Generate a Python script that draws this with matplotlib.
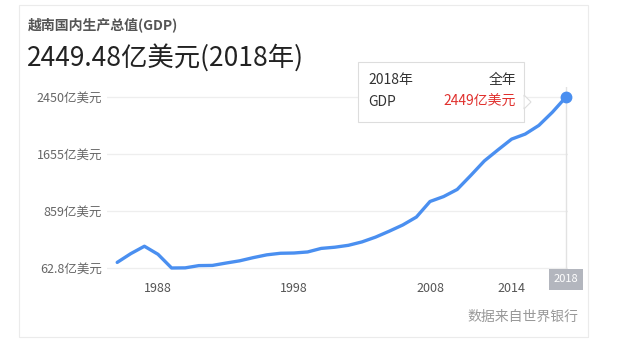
import matplotlib
matplotlib.use('Agg')
import matplotlib.pyplot as plt
from matplotlib.patches import Rectangle, Polygon

plt.rcParams['font.family'] = ['Noto Sans CJK SC', 'DejaVu Sans']

# Vietnam GDP, 亿美元 (World Bank)
years = list(range(1985, 2019))
gdp = [140.9, 263.4, 366.6, 254.2, 62.9, 64.7, 96.1, 98.7, 131.8, 162.9,
       207.4, 246.6, 268.4, 272.1, 286.8, 336.4, 352.9, 379.5, 427.2, 494.2,
       576.3, 663.7, 774.1, 991.3, 1060.1, 1159.3, 1355.4, 1558.2, 1712.2, 1862.0,
       1932.4, 2052.8, 2237.8, 2449.5]

y_ticks = [62.8, 859, 1655, 2450]
y_labels = ['62.8亿美元', '859亿美元', '1655亿美元', '2450亿美元']
x_ticks = [1988, 1998, 2008, 2014]
x_labels = ['1988', '1998', '2008', '2014']

W, H = 640, 347
def px(x, y):
    return (x / W, 1 - y / H)

fig = plt.figure(figsize=(6.4, 3.47), dpi=100)
fig.patch.set_facecolor('white')

# card
fig.patches.append(Rectangle(px(20, 338), 569 / W, 332 / H, transform=fig.transFigure,
                             facecolor='#e4e4e4', edgecolor='none', zorder=-2))
fig.patches.append(Rectangle(px(19, 337), 569 / W, 332 / H, transform=fig.transFigure,
                             facecolor='white', edgecolor='#ebebeb', lw=0.8, zorder=-1))

# plot area: x 107..568, y 87..270
scale = (2450 - 62.8) / (268 - 97)
ax = fig.add_axes([107 / W, 1 - 270 / H, 461 / W, 183 / H])
ax.set_zorder(1)
ax.set_facecolor('none')
for s in ax.spines.values():
    s.set_visible(False)
ax.set_xlim(1988 - 51 / 13.6, 1988 + 410 / 13.6)
ax.set_ylim(62.8 - 2 * scale, 2450 + 10 * scale)

for v in y_ticks:
    ax.axhline(v, color='#eeeeee', lw=0.9, zorder=1)
ax.axvline(2018, color='#e2e2e2', lw=1, zorder=1)

ax.plot(years, gdp, color='#4a8ff0', lw=2.4, solid_capstyle='round',
        solid_joinstyle='round', zorder=3, clip_on=False)
ax.plot([years[-1]], [gdp[-1]], 'o', ms=7.5, color='#4a8ff0', zorder=4, clip_on=False)

ax.set_yticks(y_ticks)
ax.set_yticklabels(y_labels, fontsize=9, color='#666666')
ax.set_xticks(x_ticks)
ax.set_xticklabels(x_labels, fontsize=9, color='#555555')
ax.tick_params(axis='y', length=0, pad=3.6)
ax.tick_params(axis='x', length=0, pad=9)

# 2018 highlight label
fig.patches.append(Rectangle(px(549, 290), 34 / W, 21 / H, transform=fig.transFigure,
                             facecolor='#b3b6be', edgecolor='none', zorder=5))
fig.text(*px(566, 279.5), '2018', ha='center', va='center', fontsize=8, color='white', zorder=6)

# titles
fig.text(*px(28, 25), '越南国内生产总值(GDP)', ha='left', va='center', fontsize=10,
         weight='bold', color='#555555')
fig.text(*px(27, 58), '2449.48亿美元(2018年)', ha='left', va='center', fontsize=19,
         color='#222222')

# tooltip
fig.patches.append(Rectangle(px(359, 123), 166 / W, 60 / H, transform=fig.transFigure,
                             facecolor='#ececec', edgecolor='none', zorder=7))
fig.patches.append(Rectangle(px(358, 122), 166 / W, 60 / H, transform=fig.transFigure,
                             facecolor='white', edgecolor='#dddddd', lw=0.8, zorder=8))
fig.patches.append(Polygon([px(524, 95), px(531, 102), px(524, 109)], closed=True,
                           transform=fig.transFigure, facecolor='white',
                           edgecolor='#dddddd', lw=0.8, zorder=8))
fig.patches.append(Polygon([px(523.5, 95.5), px(523.5, 108.5), px(522, 102)], closed=True,
                           transform=fig.transFigure, facecolor='white',
                           edgecolor='none', zorder=9))
fig.text(*px(368, 80), '2018年', ha='left', va='center', fontsize=10, color='#333333', zorder=10)
fig.text(*px(516, 80), '全年', ha='right', va='center', fontsize=10, color='#333333', zorder=10)
fig.text(*px(368, 102), 'GDP', ha='left', va='center', fontsize=10, color='#333333', zorder=10)
fig.text(*px(516, 102), '2449亿美元', ha='right', va='center', fontsize=10, color='#e0302d', zorder=10)

# source
fig.text(*px(578, 317), '数据来自世界银行', ha='right', va='center', fontsize=10, color='#999999')

fig.savefig('out.png', dpi=100, facecolor='white')
